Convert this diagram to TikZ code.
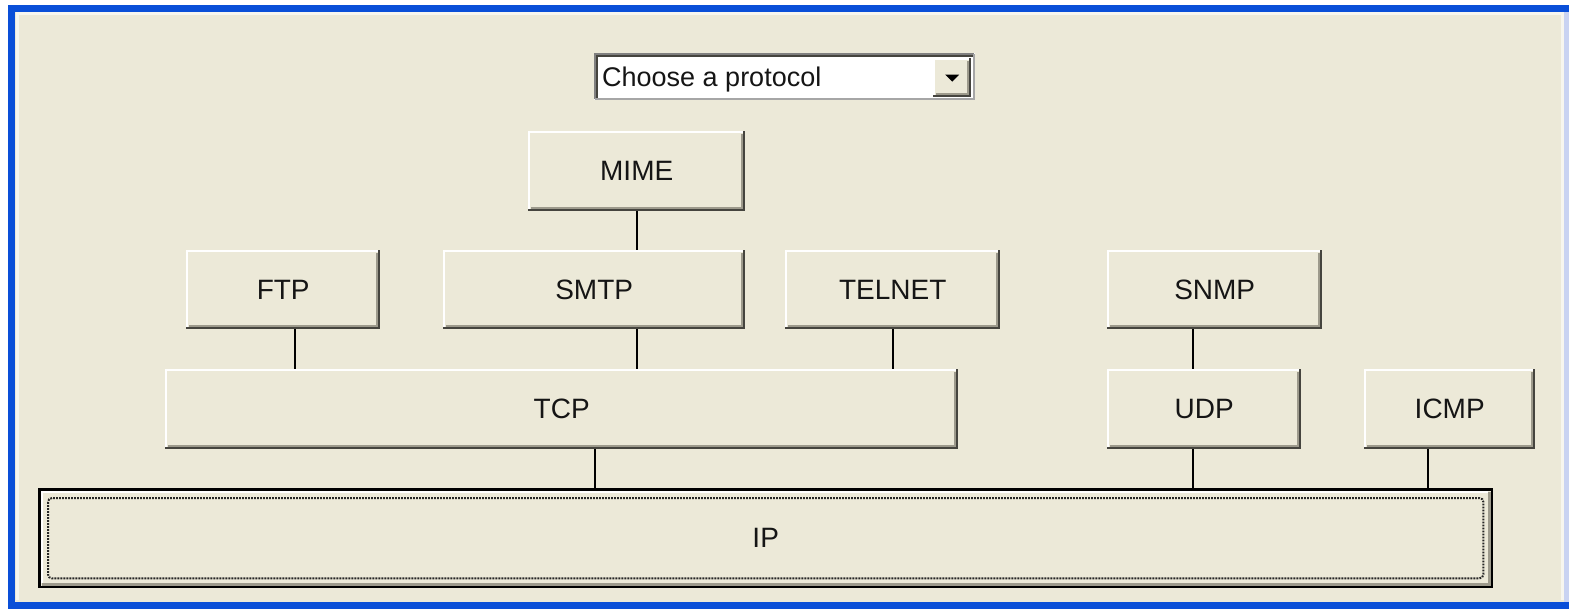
\documentclass[tikz,border=0pt]{standalone}
\usepackage{fontspec}
\setmainfont{Liberation Sans}
\usetikzlibrary{calc}
\definecolor{bg}{HTML}{ECE9D8}
\definecolor{xpblue}{HTML}{0A4FD8}
\definecolor{xplight}{HTML}{C9D3F2}
\definecolor{shadowgray}{HTML}{9D9A8C}
\definecolor{dkshadow}{HTML}{45443E}
\definecolor{txt}{HTML}{151515}
\begin{document}
\begin{tikzpicture}[x=1pt,y=-1pt,
  btn/.style={rectangle, fill=bg, inner sep=0pt, anchor=north west,
    font=\fontsize{28}{28}\selectfont, text=txt},
  conn/.style={draw=black, line width=2pt},
  hilite/.style={draw=white, line width=2pt},
  shade/.style={draw=dkshadow, line width=2.5pt},
  shadein/.style={draw=shadowgray, line width=2pt}]
\useasboundingbox (0,0) rectangle (1569,609);
% window background and frame
\fill[white] (0,0) rectangle (1569,609);
\fill[bg] (8,5) rectangle (1569,609);
\fill[xpblue] (8,5) rectangle (1569,12);
\fill[xpblue] (8,5) rectangle (15,609);
\fill[xpblue] (8,602) rectangle (1569,609);
\fill[xplight] (1564,12) rectangle (1569,602);
\draw[white!60!bg, line width=3pt] (17,600) -- (17,14) -- (1562,14) -- (1562,600);

% drop-down box
\node[btn, fill=white, minimum width=381pt, minimum height=47pt] (dd) at (594,53) {};
\draw[draw=gray, line width=2pt] ([shift={(1,-1)}]dd.south west) -- ([shift={(1,1)}]dd.north west) -- ([shift={(-1,1)}]dd.north east);
\draw[draw=dkshadow, line width=1.5pt] ([shift={(3,-2)}]dd.south west) -- ([shift={(3,3)}]dd.north west) -- ([shift={(-2,3)}]dd.north east);
\draw[draw=gray!70, line width=2pt] ([shift={(-1,1)}]dd.north east) -- ([shift={(-1,-1)}]dd.south east) -- ([shift={(1,-1)}]dd.south west);
\node[anchor=base west, inner sep=0pt, font=\fontsize{27}{27}\selectfont, text=txt] (ddtext) at (602,87) {Choose a protocol};
\node[btn, minimum width=38pt, minimum height=39pt] (ddb) at (933,58) {};
\fill[black] ($(ddb.center)+(-7,-3)$) -- ($(ddb.center)+(7,-3)$) -- ($(ddb.center)+(0,4)$) -- cycle;

% protocol buttons
\node[btn, minimum width=217pt, minimum height=80pt] (mime) at (528,131) {MIME};
\node[btn, minimum width=194pt, minimum height=79pt] (ftp) at (186,250) {FTP};
\node[btn, minimum width=302pt, minimum height=79pt] (smtp) at (443,250) {SMTP};
\node[btn, minimum width=215pt, minimum height=79pt] (telnet) at (785,250) {TELNET};
\node[btn, minimum width=215pt, minimum height=79pt] (snmp) at (1107,250) {SNMP};
\node[btn, minimum width=793pt, minimum height=80pt] (tcp) at (165,369) {TCP};
\node[btn, minimum width=194pt, minimum height=80pt] (udp) at (1107,369) {UDP};
\node[btn, minimum width=171pt, minimum height=80pt] (icmp) at (1364,369) {ICMP};

\foreach \n in {ddb,mime,ftp,smtp,telnet,snmp,tcp,udp,icmp}{
  \draw[hilite] ([shift={(1,-1)}]\n.south west) -- ([shift={(1,1)}]\n.north west) -- ([shift={(-1,1)}]\n.north east);
  \draw[shadein] ([shift={(3,-3.5)}]\n.south west) -- ([shift={(-3.5,-3.5)}]\n.south east) -- ([shift={(-3.5,3)}]\n.north east);
  \draw[shade] ([shift={(0,-1.25)}]\n.south west) -- ([shift={(-1.25,-1.25)}]\n.south east) -- ([shift={(-1.25,0)}]\n.north east);
}

% IP box
\node[btn, minimum width=1455pt, minimum height=100pt] (ip) at (38,488) {IP};
\draw[draw=black, line width=2.5pt] ([shift={(1.25,1.25)}]ip.north west) rectangle ([shift={(-1.25,-1.25)}]ip.south east);
\draw[draw=white, line width=1.5pt] ([shift={(4,-5)}]ip.south west) -- ([shift={(4,4)}]ip.north west) -- ([shift={(-5,4)}]ip.north east);
\draw[draw=shadowgray, line width=2.5pt] ([shift={(4,-4)}]ip.south west) -- ([shift={(-4,-4)}]ip.south east) -- ([shift={(-4,4)}]ip.north east);
\draw[draw=black!85, line width=2pt, dash pattern=on 1.8pt off 1.2pt, rounded corners=4pt]
  ([shift={(10,10)}]ip.north west) rectangle ([shift={(-10,-10)}]ip.south east);

% connector columns
\coordinate (cftp) at (295,0);
\coordinate (csmtp) at (637,0);
\coordinate (ctel) at (893,0);
\coordinate (ctcp) at (595,0);
\coordinate (cudp) at (1193,0);
\coordinate (cicmp) at (1428,0);

\draw[conn] (csmtp |- mime.south) -- (csmtp |- smtp.north);
\draw[conn] (cftp |- ftp.south) -- (cftp |- tcp.north);
\draw[conn] (csmtp |- smtp.south) -- (csmtp |- tcp.north);
\draw[conn] (ctel |- telnet.south) -- (ctel |- tcp.north);
\draw[conn] (cudp |- snmp.south) -- (cudp |- udp.north);
\draw[conn] (ctcp |- tcp.south) -- (ctcp |- ip.north);
\draw[conn] (cudp |- udp.south) -- (cudp |- ip.north);
\draw[conn] (cicmp |- icmp.south) -- (cicmp |- ip.north);
\end{tikzpicture}
\end{document}
